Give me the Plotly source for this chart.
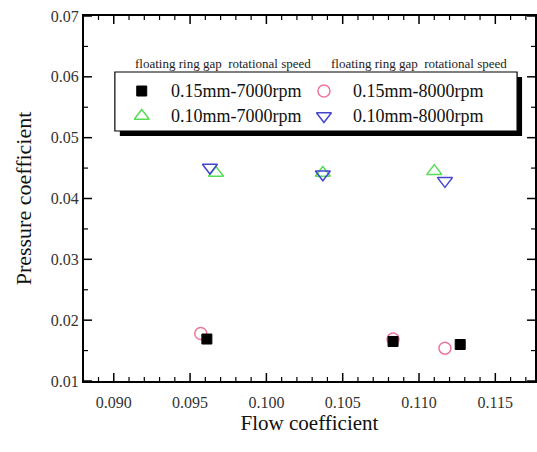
import plotly.graph_objects as go

# ---- data ----
flow_015_7000 = [0.0961, 0.1083, 0.1127]
pres_015_7000 = [0.0169, 0.0165, 0.0160]
flow_015_8000 = [0.0957, 0.1083, 0.1117]
pres_015_8000 = [0.0178, 0.0169, 0.0154]
flow_010_7000 = [0.0967, 0.1037, 0.1110]
pres_010_7000 = [0.0442, 0.0442, 0.0445]
flow_010_8000 = [0.0963, 0.1037, 0.1117]
pres_010_8000 = [0.0451, 0.0440, 0.0429]

series_names = ["0.15mm-7000rpm", "0.15mm-8000rpm", "0.10mm-7000rpm", "0.10mm-8000rpm"]
header_text = "floating ring gap  rotational speed"
x_tick_start, x_tick_step = 0.090, 0.005
y_tick_start, y_tick_step = 0.01, 0.01

FONT = "Liberation Serif"
styles = [
    dict(symbol="square", color="#000000", line=dict(color="#000000", width=1), size=10),
    dict(symbol="circle-open", color="#ee7799", line=dict(color="#ee7799", width=1.5), size=12),
    dict(symbol="triangle-up-open", color="#55dd55", line=dict(color="#55dd55", width=1.5), size=13),
    dict(symbol="triangle-down-open", color="#4444cc", line=dict(color="#4444cc", width=1.5), size=13),
]
xs = [flow_015_7000, flow_015_8000, flow_010_7000, flow_010_8000]
ys = [pres_015_7000, pres_015_8000, pres_010_7000, pres_010_8000]

X_RANGE = [0.08805, 0.1176]
Y_RANGE = [0.01, 0.07]
L, R, T, B = 84, 537, 16, 381
PW, PH = R - L, B - T


def px2x(px):
    return X_RANGE[0] + (px - L) / PW * (X_RANGE[1] - X_RANGE[0])


def py2y(py):
    return Y_RANGE[1] - (py - T) / PH * (Y_RANGE[1] - Y_RANGE[0])


def px2paper(px):
    return (px - L) / PW


def py2paper(py):
    return 1 - (py - T) / PH


fig = go.Figure()

# ---- manual legend box (paper coords) ----
box = (115, 72, 519, 131)
fig.add_shape(type="rect", xref="paper", yref="paper",
              x0=px2paper(box[0] + 5), y0=py2paper(box[1] + 5), x1=px2paper(box[2] + 5), y1=py2paper(box[3] + 5),
              fillcolor="black", line=dict(width=0), layer="below")
fig.add_shape(type="rect", xref="paper", yref="paper",
              x0=px2paper(box[0]), y0=py2paper(box[1]), x1=px2paper(box[2]), y1=py2paper(box[3]),
              fillcolor="white", line=dict(color="black", width=1.2), layer="below")

# ---- inward ticks on all four sides, drawn as short lines ----
MAJ, MIN = 8, 4
for k in range(31):
    v = round(0.088 + k * 0.001, 3)
    if not (X_RANGE[0] <= v <= X_RANGE[1]):
        continue
    is_major = abs(v / 0.005 - round(v / 0.005)) < 1e-6
    ln = (MAJ if is_major else MIN) / PH
    w = 1.5 if is_major else 1.2
    for y0, y1 in ((0, ln), (1, 1 - ln)):
        fig.add_shape(type="line", xref="x", yref="paper", x0=v, x1=v, y0=y0, y1=y1,
                      line=dict(color="black", width=w), layer="above")
for k in range(13):
    v = round(0.01 + k * 0.005, 3)
    is_major = abs(v / 0.01 - round(v / 0.01)) < 1e-6
    ln = (MAJ if is_major else MIN) / PW
    w = 1.5 if is_major else 1.2
    for x0, x1 in ((0, ln), (1, 1 - ln)):
        fig.add_shape(type="line", xref="paper", yref="y", x0=x0, x1=x1, y0=v, y1=v,
                      line=dict(color="black", width=w), layer="above")

draw_order = [2, 3, 1, 0]
for i in draw_order:
    fig.add_trace(go.Scatter(x=xs[i], y=ys[i], mode="markers", name=series_names[i],
                             marker=styles[i], showlegend=False))

leg_pos = [(142, 91), (325, 91), (142, 116), (325, 116)]
for i, (px, py) in enumerate(leg_pos):
    fig.add_trace(go.Scatter(x=[px2x(px)], y=[py2y(py)], mode="markers",
                             marker=styles[i], showlegend=False, hoverinfo="skip"))
    fig.add_annotation(x=px2paper(px + 27), y=py2paper(py), xref="paper", yref="paper", text=series_names[i],
                       showarrow=False, xanchor="left", yanchor="middle",
                       font=dict(family=FONT, size=18, color="#111"))
for cx in (224, 420):
    fig.add_annotation(x=px2paper(cx), y=py2paper(63), xref="paper", yref="paper", text=header_text,
                       showarrow=False, xanchor="center", yanchor="middle",
                       font=dict(family=FONT, size=13, color="#222"))

axis_common = dict(showline=True, linecolor="black", linewidth=2, mirror=True,
                   ticks="", showgrid=False, zeroline=False,
                   tickfont=dict(family=FONT, size=16, color="#333"))
fig.update_layout(
    width=537, height=452,
    margin=dict(l=L, r=537 - R, t=T, b=452 - B),
    plot_bgcolor="white", paper_bgcolor="white",
    xaxis=dict(range=X_RANGE, tickmode="linear", tick0=x_tick_start, dtick=x_tick_step, tickformat=".3f",
               title=dict(text="Flow coefficient", font=dict(family=FONT, size=21, color="#111"), standoff=4),
               ticklabelstandoff=6, **axis_common),
    yaxis=dict(range=Y_RANGE, tickmode="linear", tick0=y_tick_start, dtick=y_tick_step, tickformat=".2f",
               title=dict(text="Pressure coefficient", font=dict(family=FONT, size=22, color="#111"), standoff=13),
               **axis_common),
    showlegend=False,
)
fig.write_html("out.html")
